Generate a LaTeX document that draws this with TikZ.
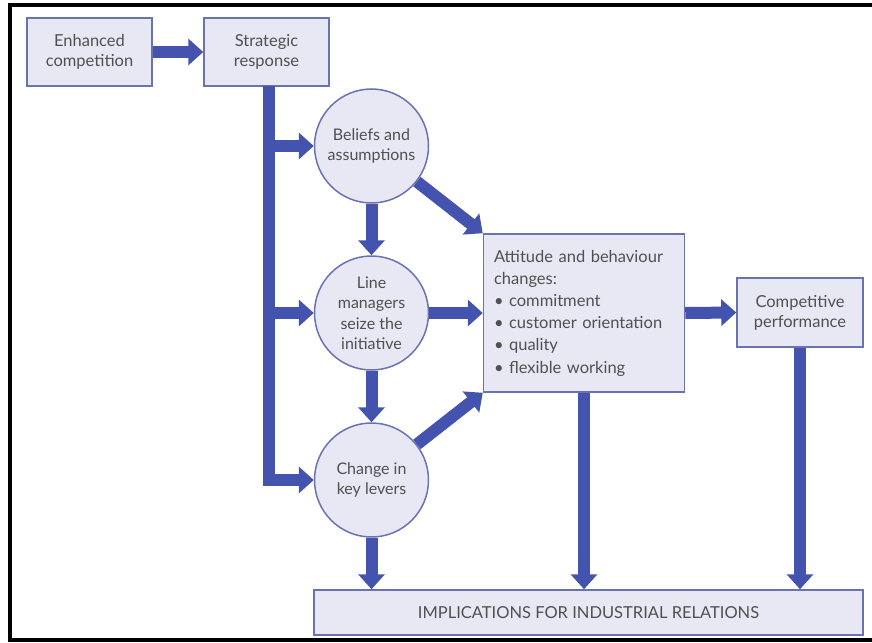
\documentclass[tikz,border=0pt]{standalone}
\usepackage{fontspec}
\setmainfont{Lato}
\usetikzlibrary{arrows.meta,positioning,calc}
\definecolor{boxfill}{HTML}{E7E8F4}
\definecolor{boxline}{HTML}{6A72B4}
\definecolor{arrowblue}{HTML}{4353AE}
\definecolor{txt}{HTML}{505050}
\tikzset{
  rbox/.style={draw=boxline, fill=boxfill, line width=1.5pt, text=txt, align=center, inner sep=0pt,
    font=\fontsize{16.5}{20}\selectfont},
  cbox/.style={circle, draw=boxline, fill=boxfill, line width=1.5pt, text=txt, align=center,
    inner sep=0pt, minimum size=114pt, font=\fontsize{16}{20.5}\selectfont},
  fat/.style={draw=arrowblue, line width=12pt, line cap=butt, line join=miter,
    -{Triangle[width=26pt,length=15pt]}},
}
\begin{document}
\begin{tikzpicture}[x=1pt,y=-1pt]
\useasboundingbox (0,0) rectangle (872,642);
\draw[black, line width=4pt] (872,5) -- (10,5) -- (10,640) -- (872,640);

% boxes
\node[rbox, minimum width=125pt, minimum height=68pt] (enh) at (89.5,52) {Enhanced\\competition};
\node[rbox, minimum width=125pt, minimum height=68pt] (str) at (266.5,52) {Strategic\\response};
\node[cbox] (bel) at (371.5,146) {Beliefs and\\assumptions};
\node[cbox] (lin) at (371.5,313) {Line\\managers\\seize the\\initiative};
\node[cbox] (chg) at (371.5,480) {Change in\\key levers};
\node[rbox, minimum width=201pt, minimum height=158pt, text width=180pt, align=left,
  font=\fontsize{16.5}{22.2}\selectfont] (att) at (584,313)
  {Attitude and behaviour\\changes:\\• commitment\\• customer orientation\\• quality\\• flexible working};
\node[rbox, minimum width=126pt, minimum height=69pt] (cmp) at (800,312.5) {Competitive\\performance};
\node[rbox, minimum width=549pt, minimum height=45pt] (imp) at (588.5,612.5) {IMPLICATIONS FOR INDUSTRIAL RELATIONS};

% connectors
\coordinate (trk) at (268.5,86);
\draw[fat] (enh.east) -- (str.west);
\draw[fat] (trk) |- (chg.west);
\draw[fat] ([xshift=-6pt]trk |- bel.west) -- (bel.west);
\draw[fat] ([xshift=-6pt]trk |- lin.west) -- (lin.west);
\draw[fat] (bel.south) -- (lin.north);
\draw[fat] (lin.south) -- (chg.north);
\draw[fat] (bel) -- (att.north west);
\draw[fat] (lin.east) -- (att.west);
\draw[fat] (chg) -- (att.south west);
\draw[fat] (att.east) -- (cmp.west);
\draw[fat] (chg.south) -- (chg.south |- imp.north);
\draw[fat] (att.south) -- (att.south |- imp.north);
\draw[fat] (cmp.south) -- (cmp.south |- imp.north);
\end{tikzpicture}
\end{document}
